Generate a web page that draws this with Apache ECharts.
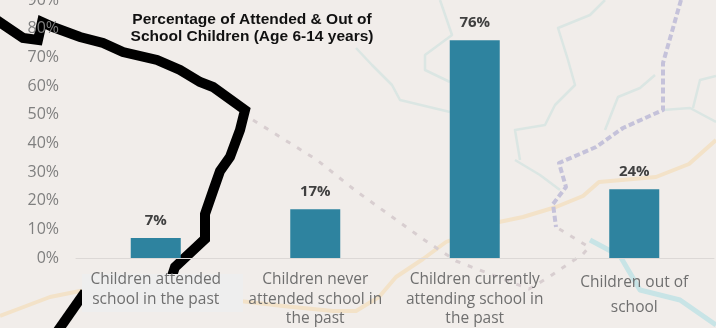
<!DOCTYPE html>
<html><head><meta charset="utf-8">
<style>html,body{margin:0;padding:0;background:#f1edea}#c{width:716px;height:328px}</style>
<script src="https://cdn.jsdelivr.net/npm/echarts@6/dist/echarts.min.js"></script>
</head><body><div id="c"></div>
<script>
const categories = ["Children attended\nschool in the past","Children never\nattended school in\nthe past","Children currently\nattending school in\nthe past","Children out of\nschool"];
const values = [7,17,76,24];
const titleLines = "Percentage of Attended & Out of\nSchool Children (Age 6-14 years)";

// Backdrop map decoration (not chart data)
const blackA = [[-5,19],[23,38],[38,40],[42,22],[53,27],[80,37],[103,43],[123,52],[157,60],[180,70],[200,82],[213,87],[245,110],[240,130],[230,157],[220,171],[213,191],[205,214],[205,239],[175,267],[172,276]];
const blackB = [[85,292],[57,332]];
const road = [[0,316],[13,311],[50,297],[80,291],[150,292],[240,301],[283,306],[333,311],[356,311],[379,297],[396,277],[423,259],[446,242],[499,222],[523,217],[556,207],[583,196],[599,182],[656,177],[689,164],[716,140]];
const dotted = [[253,120],[317,160],[356,191],[423,239],[456,261],[529,289],[549,277],[583,254],[589,247],[556,227]];
const purple = [[681,0],[663,63],[663,110],[623,128],[596,147],[559,163],[566,187],[553,204],[556,227]];
const rivers = [
 [[356,48],[372,65],[392,85],[400,100],[450,112]],
 [[440,0],[452,35],[425,55],[425,70],[450,82]],
 [[605,0],[590,15],[558,28],[568,60],[575,85],[555,105],[545,125],[515,130],[520,160]],
 [[655,75],[640,88],[618,97],[605,130]],
 [[663,110],[690,108],[716,122]],[[693,108],[700,80],[716,76]],
 [[590,240],[620,256],[640,290],[680,300],[716,325]],
 [[515,160],[540,175],[560,190]]
];
const poly = (pts,stroke,width,extra,z) => ({type:'polyline',silent:true,z:z||-5,shape:{points:pts,smooth:0},style:Object.assign({fill:null,stroke,lineWidth:width,lineJoin:'round'},extra||{})});
const graphics = [
 ...rivers.map((r,i)=>poly(r,i===6?'#c8e4e6':'#dbe6e3',i===6?5:2.5)),
 poly(road,'#f3e2c8',4),
 poly(dotted,'#d8ced0',3,{lineDash:[5,8]}),
 poly(purple,'#c5c2da',4,{lineDash:[6,3]}),
 poly(blackA,'#000',10,{lineJoin:'miter'},-3),
 poly(blackB,'#000',10,{},-3),
 {type:'rect',silent:true,z:-2,shape:{x:82,y:274,width:161,height:38},style:{fill:'#eeeeee'}},
 {type:'text',silent:true,z:10,style:{x:252,y:28,text:titleLines,align:'center',verticalAlign:'middle',font:'bold 15.5px "Liberation Sans"',fill:'#111',lineHeight:17}}
];

const chart = echarts.init(document.getElementById('c'),null,{renderer:'canvas'});
chart.setOption({
 animation:false,
 backgroundColor:'#f1edea',
 graphic:graphics,
 grid:{left:76,right:2,top:0,bottom:70,containLabel:false,outerBoundsMode:'none'},
 xAxis:{type:'category',data:categories,
  axisLine:{show:true,lineStyle:{color:'#dcd8d6',width:1}},axisTick:{show:false},
  axisLabel:{interval:0,margin:12,color:'#6f6f6f',fontFamily:'"Open Sans"',fontSize:15.5,lineHeight:19.5,verticalAlign:'top',
   formatter:(v,i)=> i===3 ? v.split('\n').map(s=>'{w|'+s+'}').join('\n') : v,
   rich:{w:{lineHeight:25,color:'#6f6f6f',fontFamily:'"Open Sans"',fontSize:15.5}}}},
 yAxis:{type:'value',min:0,max:90,interval:10,
  axisLine:{show:false},axisTick:{show:false},splitLine:{show:false},
  axisLabel:{color:'#7f7f7f',fontFamily:'"Open Sans"',fontSize:16,margin:17,formatter:'{value}%'}},
 series:[{type:'bar',data:values,barWidth:50,
  itemStyle:{color:'#2e839f'},
  label:{show:true,position:'top',distance:10,formatter:'{c}%',color:'#404040',fontFamily:'"Open Sans"',fontWeight:'bold',fontSize:15}}]
});
</script></body></html>
